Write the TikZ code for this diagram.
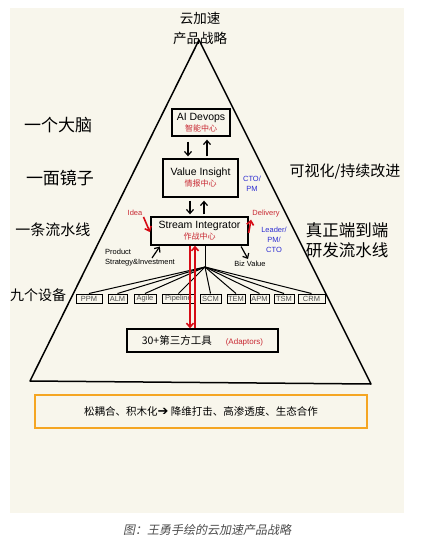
\documentclass[tikz,border=0pt]{standalone}
\usepackage{fontspec}
\setmainfont{Liberation Sans}
\newfontfamily\cjk{Noto Sans CJK SC}
\newfontfamily\capcjk[FakeSlant=0.2]{Noto Sans CJK SC}
\newfontfamily\symfont{DejaVu Sans}
\usetikzlibrary{arrows.meta,positioning,calc}
\definecolor{paper}{RGB}{248,246,236}
\definecolor{inkred}{RGB}{200,40,50}
\definecolor{linered}{RGB}{214,12,22}
\definecolor{inkblue}{RGB}{45,45,210}
\definecolor{barorange}{RGB}{245,166,35}
\newcommand{\subcn}[1]{{\color{inkred}\cjk\fontsize{8}{9}\selectfont #1}}

\begin{document}
\begin{tikzpicture}[x=1pt, y=-1pt,
  font=\fontsize{10.5}{12}\selectfont,
  box/.style={draw, line width=1.3pt, align=center, inner sep=2pt},
  tool/.style={draw, line width=1pt, font=\fontsize{7.5}{8}\selectfont, text=black!70, inner sep=0.8pt, minimum height=9pt},
  hand/.style={font=\cjk\fontsize{15}{20}\selectfont, align=center},
  lbl/.style={font=\fontsize{7.5}{10}\selectfont, align=left, inner sep=1pt},
  role/.style={lbl, text=inkblue, align=center},
  arr/.style={-{Straight Barb[length=4pt,width=7pt]}, line width=1.2pt},
  redarr/.style={arr, draw=linered, line width=1.6pt},
]
\useasboundingbox (0,0) rectangle (421,544);
\fill[white] (0,0) rectangle (421,544);
\fill[paper] (10,8) rectangle (404,513);

% pyramid
\coordinate (apex) at (199,40);
\coordinate (bl) at (30,381);
\coordinate (br) at (371,384);
\draw[line width=1.5pt, line join=round] (apex) -- (br) -- (bl) -- cycle;
\node[font=\cjk\fontsize{13.5}{20}\selectfont, align=center] (title) at (200,28) {云加速\\产品战略};

% centres
\node[box, minimum width=58pt, minimum height=27pt] (ai) at (201,122.5) {AI Devops\\[-1pt]\subcn{智能中心}};
\node[box, minimum width=75pt, minimum height=38pt] (vi) at (200.5,178) {Value Insight\\[-1pt]\subcn{情报中心}};
\node[box, minimum width=97pt, minimum height=28pt] (si) at (199.5,231) {Stream Integrator\\[-1pt]\subcn{作战中心}};
\node[box, minimum width=151pt, minimum height=23pt] (adp) at (202.5,340.5) {{\cjk 30+第三方工具}\hspace{14pt}{\color{inkred}\fontsize{8}{9}\selectfont(Adaptors)}};

% nine tools
\coordinate (hub) at (205,267);
\foreach \nm/\cx/\w [count=\i] in {PPM/89/26, ALM/117.5/19, Agile/145/22, Pipeline/178.5/33, SCM/210.5/21, TEM/236/18, APM/259.5/19, TSM/284/20, CRM/311.5/27}
  \node[tool, minimum width=\w pt] (t\i) at (\cx,298.5) {\nm};
\foreach \i in {1,...,9}
  \draw[line width=1pt] (hub) -- (t\i.north);
\draw[line width=1pt] (hub |- si.south) -- (hub);

% side texts
\node[lbl, text=inkred] (idea) at (135,213) {Idea};
\node[lbl, text=inkred] (deliv) at (266,214) {Delivery};
\node[role] (ctopm) at (252,184) {CTO/\\PM};
\node[role] (leader) at (274,240) {Leader/\\PM/\\CTO};
\node[lbl, anchor=west] (strat) at (104,258) {Product\\Strategy\&Investment};
\node[lbl] (biz) at (250,264) {Biz Value};
\coordinate (pstail) at (152,258);
\coordinate (bizhead) at (248,259);

% arrows
\draw[arr, shorten <=5pt, shorten >=2pt] ([xshift=-13pt]ai.south) -- ([xshift=-12.5pt]vi.north);
\draw[arr, shorten <=2pt, shorten >=3pt] ([xshift=6.5pt]vi.north) -- ([xshift=6pt]ai.south);
\draw[arr, shorten <=3pt, shorten >=2pt] ([xshift=-10.5pt]vi.south) -- ([xshift=-9.5pt]si.north);
\draw[arr, shorten <=2pt, shorten >=3pt] ([xshift=4.5pt]si.north) -- ([xshift=3.5pt]vi.south);
\draw[redarr, shorten >=1pt] (idea.south east) -- ([yshift=-2pt]si.west);
\draw[redarr, shorten >=1pt] ([yshift=-2pt]si.east) -- (deliv.south west);
\draw[arr, shorten >=1pt] (pstail) -- ([xshift=10pt]si.south west);
\draw[arr, shorten <=1pt] ([xshift=-8pt]si.south east) -- (bizhead);
\draw[redarr] ([xshift=-9.5pt]si.south) -- ([xshift=-12.5pt]adp.north);
\draw[redarr] ([xshift=-7.5pt]adp.north) -- ([xshift=-4.5pt]si.south);

% hand notes
\node[hand, font=\cjk\fontsize{17}{20}\selectfont] (brain) at (58,125) {一个大脑};
\node[hand, font=\cjk\fontsize{17}{20}\selectfont] (mirror) at (60,178) {一面镜子};
\node[hand] (pipe) at (53,230) {一条流水线};
\node[hand, font=\cjk\fontsize{14}{20}\selectfont] (devices) at (38,295) {九个设备};
\node[hand] (visual) at (345,172) {可视化/持续改进};
\node[hand, font=\cjk\fontsize{16.5}{20}\selectfont] (e2e) at (347,240) {真正端到端\\研发流水线};

% bottom bar and caption
\node[draw=barorange, line width=1.5pt, minimum width=332pt, minimum height=33pt, font=\cjk\fontsize{10.5}{12}\selectfont] (bar) at (201,411.5) {松耦合、积木化{\symfont\bfseries\fontsize{13}{12}\selectfont ➔} 降维打击、高渗透度、生态合作};
\node[text=black!70, font=\capcjk\fontsize{12}{14}\selectfont] (cap) at (207,530) {图：王勇手绘的云加速产品战略};
\end{tikzpicture}
\end{document}
